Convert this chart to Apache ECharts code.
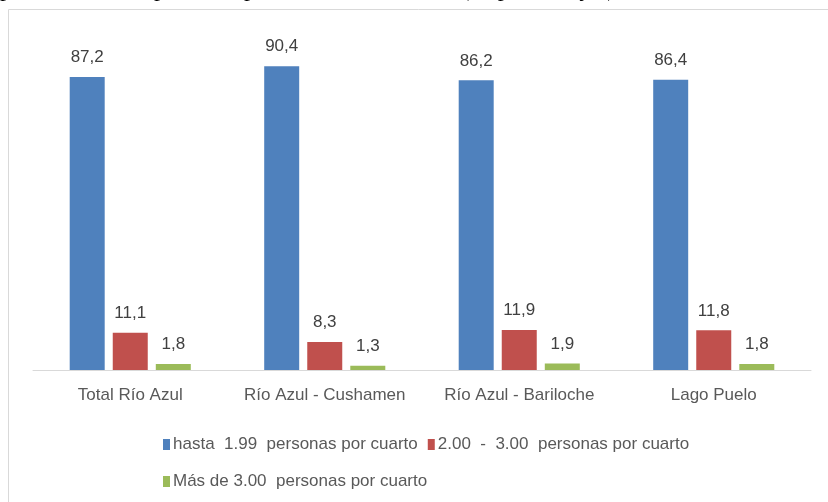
<!DOCTYPE html>
<html>
<head>
<meta charset="utf-8">
<script src="https://cdn.jsdelivr.net/npm/echarts@6/dist/echarts.min.js"></script>
<style>
  html, body { margin: 0; padding: 0; background: #fff; }
  #chart { width: 828px; height: 502px; }
</style>
</head>
<body>
<div id="chart"></div>
<script>
// datos del gráfico
const categorias = ['Total Río Azul', 'Río Azul - Cushamen', 'Río Azul - Bariloche', 'Lago Puelo']
const hasta199 = [87.2, 90.4, 86.2, 86.4]
const de200a300 = [11.1, 8.3, 11.9, 11.8]
const masDe300 = [1.8, 1.3, 1.9, 1.8]
const nombres = [
  'hasta  1.99  personas por cuarto',
  '2.00  -  3.00  personas por cuarto',
  'Más de 3.00  personas por cuarto'
]

;(function () {
  let myChart = echarts.init(document.getElementById('chart'))
  const fuente = 'Liberation Sans'

  // etiqueta con coma decimal
  let etiqueta = {
    show: true,
    position: 'top',
    distance: 11,
    color: '#404040',
    fontFamily: fuente,
    fontSize: 17,
    formatter: function (p) {
      return String(p.value.toFixed(1)).replace('.', ',')
    }
  }

  let leyendaTexto = { color: '#595959', fontFamily: fuente, fontSize: 17, padding: [0, 0, 0, -2] }

  let option = {
    animation: false,
    color: ['#4f81bd', '#c0504d', '#9bbb59'],
    graphic: [
      // marco del gráfico
      {
        type: 'rect',
        shape: { x: 8.5, y: 9.5, width: 840, height: 520 },
        style: { fill: 'none', stroke: '#d9d9d9', lineWidth: 1 }
      },
      // texto del título cortado arriba
      {
        type: 'text',
        left: 0,
        top: -22,
        style: {
          text: 'por cantidad de personas por cuarto. Año 2010  (en porcentajes)',
          font: '24px "Liberation Serif"',
          fill: '#000'
        }
      }
    ],
    legend: [
      {
        data: [nombres[0], nombres[1]],
        left: 158,
        top: 431,
        icon: 'rect',
        itemWidth: 7,
        itemHeight: 11,
        itemGap: 10,
        textStyle: leyendaTexto
      },
      {
        data: [nombres[2]],
        left: 158,
        top: 468,
        icon: 'rect',
        itemWidth: 7,
        itemHeight: 11,
        textStyle: leyendaTexto
      }
    ],
    grid: {
      left: 33,
      right: 17,
      top: 34,
      bottom: 132
    },
    xAxis: {
      type: 'category',
      data: categorias,
      axisTick: { show: false },
      axisLine: { lineStyle: { color: '#d9d9d9' } },
      axisLabel: {
        color: '#595959',
        fontFamily: fuente,
        fontSize: 17,
        interval: 0,
        margin: 17
      }
    },
    yAxis: {
      type: 'value',
      min: 0,
      max: 100,
      show: false
    },
    series: [
      { name: nombres[0], type: 'bar', data: hasta199, barWidth: 35, barGap: '23%', label: etiqueta },
      { name: nombres[1], type: 'bar', data: de200a300, barWidth: 35, barGap: '23%', label: etiqueta },
      { name: nombres[2], type: 'bar', data: masDe300, barWidth: 35, barGap: '23%', label: etiqueta }
    ]
  }

  myChart.setOption(option)
})();
</script>
</body>
</html>
